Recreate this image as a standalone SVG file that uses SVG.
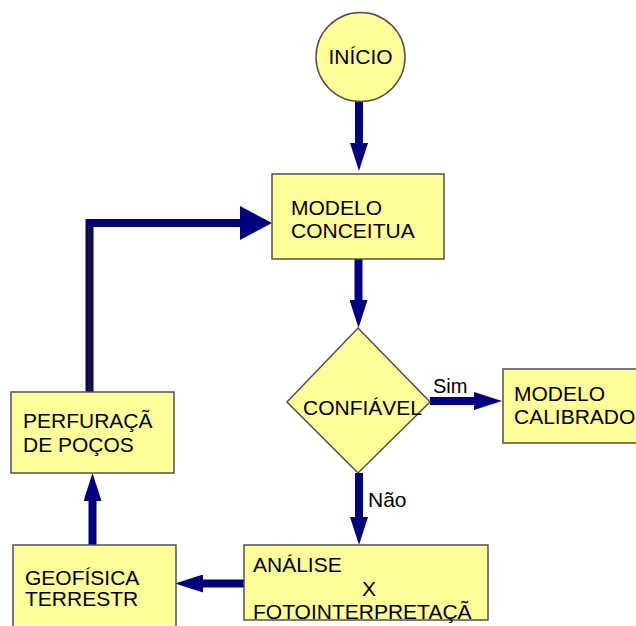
<svg xmlns="http://www.w3.org/2000/svg" width="636" height="626" viewBox="0 0 636 626">
<style>
.box{fill:#FFFF99;stroke:#505050;stroke-width:1.5}
.t{font-family:"Liberation Sans",Arial,sans-serif;font-size:21px;fill:#000}
.c{fill:none;stroke:#000080;stroke-width:8}
</style>
<defs>
<marker id="ah" markerUnits="userSpaceOnUse" viewBox="0 0 28 18" refX="0" refY="9" markerWidth="28" markerHeight="18" orient="auto">
<path d="M0,0 L28,9 L0,18 Z" fill="#000080"/>
</marker>
<marker id="ahBig" markerUnits="userSpaceOnUse" viewBox="0 0 32 34" refX="0" refY="17" markerWidth="32" markerHeight="34" orient="auto">
<path d="M0,0 L32,17 L0,34 Z" fill="#000080"/>
</marker>
</defs>
<rect width="636" height="626" fill="#FFFFFF"/>
<g id="connectors">
<line class="c" x1="359" y1="101" x2="359" y2="143" marker-end="url(#ah)"/>
<line class="c" x1="358.5" y1="259" x2="358.5" y2="300" marker-end="url(#ah)"/>
<line class="c" x1="430" y1="401" x2="474" y2="401" marker-end="url(#ah)"/>
<line class="c" x1="359" y1="473" x2="359" y2="517" marker-end="url(#ah)"/>
<line class="c" x1="244" y1="583.5" x2="203" y2="583.5" marker-end="url(#ah)"/>
<line class="c" x1="92.5" y1="545" x2="92.5" y2="501" marker-end="url(#ah)"/>
<path class="c" d="M89.5,392 V223 H240" marker-end="url(#ahBig)"/>
<line x1="89.5" y1="392" x2="89.5" y2="226" stroke="#1a1a1a" stroke-width="3"/>
<text class="t" x="433" y="393" style="font-size:20px">Sim</text>
<text class="t" x="368" y="507">Não</text>
</g>
<g id="inicio">
<circle class="box" cx="360.5" cy="57" r="44.5"/>
<text class="t" x="360.5" y="64" text-anchor="middle">INÍCIO</text>
</g>
<g id="modelo-conceitual">
<rect class="box" x="272" y="174" width="172" height="85"/>
<text class="t" x="291" y="215">MODELO</text>
<text class="t" x="291" y="238">CONCEITUA</text>
</g>
<g id="confiavel">
<polygon class="box" points="358,328 430,402 358,473 287,402"/>
<text class="t" x="303" y="415">CONFIÁVEL</text>
</g>
<g id="modelo-calibrado">
<rect class="box" x="503" y="369" width="140" height="74"/>
<text class="t" x="514" y="401">MODELO</text>
<text class="t" x="514" y="424">CALIBRADO</text>
</g>
<g id="analise">
<rect class="box" x="244" y="545" width="244" height="75"/>
<text class="t" x="253" y="572">ANÁLISE</text>
<text class="t" x="362" y="596">X</text>
<text class="t" x="253" y="619">FOTOINTERPRETAÇÃ</text>
</g>
<g id="geofisica">
<rect class="box" x="13" y="545" width="163" height="90"/>
<text class="t" x="25" y="585">GEOFÍSICA</text>
<text class="t" x="25" y="606">TERRESTR</text>
</g>
<g id="perfuracao">
<rect class="box" x="11" y="392" width="163" height="81"/>
<text class="t" x="23" y="428">PERFURAÇÃ</text>
<text class="t" x="23" y="452">DE POÇOS</text>
</g>
</svg>
